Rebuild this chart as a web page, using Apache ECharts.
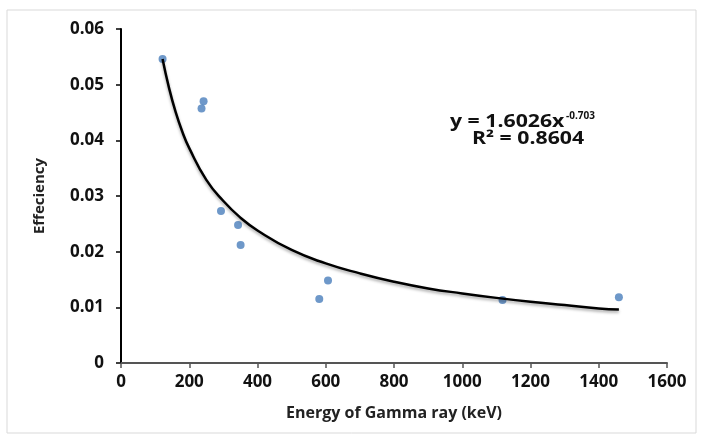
<!DOCTYPE html>
<html>
<head>
<meta charset="utf-8">
<script src="https://cdn.jsdelivr.net/npm/echarts@6/dist/echarts.min.js"></script>
<style>
  html, body { margin: 0; padding: 0; background: #fff; }
  #chart { width: 702px; height: 442px; }
</style>
</head>
<body>
<div id="chart"></div>
<script>
// measured points (energy keV, efficiency)
var energy = [121.8, 236, 242, 293, 343, 350.5, 581, 606.6, 1118, 1459];
var effic  = [0.0546, 0.0457, 0.0470, 0.0273, 0.0248, 0.0212, 0.0115, 0.0148, 0.0113, 0.0118];

// power trendline
var fitX = [121.8, 140, 160, 180, 200, 250, 300, 350, 400, 500, 600, 700, 800, 900, 1000, 1100, 1200, 1300, 1400, 1459];
var fitY = [0.0546, 0.0496, 0.0451, 0.0415, 0.0386, 0.0329, 0.0291, 0.0261, 0.0238, 0.0203, 0.0179, 0.0161, 0.0146, 0.0134, 0.0125, 0.0117, 0.0110, 0.0104, 0.0098, 0.0096];

var xTicks = [0, 200, 400, 600, 800, 1000, 1200, 1400, 1600];
var yTicks = [0, 0.01, 0.02, 0.03, 0.04, 0.05, 0.06];

var eqMain = 'y = 1.6026x';
var eqExp = '-0.703';
var eqR2 = 'R² = 0.8604';

var font = 'Open Sans, Liberation Sans, sans-serif';

var pts = energy.map(function (e, i) { return [e, effic[i]]; });
var fit = fitX.map(function (e, i) { return [e, fitY[i]]; });

var myChart = echarts.init(document.getElementById('chart'));
var option = {
    backgroundColor: '#fff',
    animation: false,
    grid: {
        left: 121,
        right: 35,
        top: 29,
        bottom: 79
    },
    xAxis: {
        type: 'value',
        min: xTicks[0],
        max: xTicks[xTicks.length - 1],
        interval: 200,
        name: 'Energy of Gamma ray (keV)',
        nameLocation: 'middle',
        nameGap: 42,
        nameTextStyle: { fontFamily: font, fontWeight: 'bold', fontSize: 16, color: '#222' },
        axisLine: { lineStyle: { color: '#555', width: 2 } },
        axisTick: { inside: false, length: 5, lineStyle: { color: '#555', width: 1.5 } },
        axisLabel: {
            fontFamily: font, fontWeight: 'bold', fontSize: 17, color: '#111', margin: 11,
            formatter: function (v) { return String(v); }
        },
        splitLine: { show: false }
    },
    yAxis: {
        type: 'value',
        min: yTicks[0],
        max: yTicks[yTicks.length - 1],
        interval: 0.01,
        name: 'Effeciency',
        nameLocation: 'middle',
        nameGap: 74,
        nameTextStyle: { fontFamily: font, fontWeight: 'bold', fontSize: 15, color: '#222' },
        axisLine: { show: true, lineStyle: { color: '#000', width: 2 } },
        axisTick: { show: true, inside: false, length: 5, lineStyle: { color: '#000', width: 1.5 } },
        axisLabel: {
            fontFamily: font, fontWeight: 'bold', fontSize: 17, color: '#111', margin: 17,
            formatter: function (v) { return v === 0 ? '0' : v.toFixed(2); }
        },
        splitLine: { show: false }
    },
    graphic: [
        {
            type: 'rect',
            shape: { x: 7, y: 10, width: 689, height: 423 },
            style: { fill: 'none', stroke: '#d9d9d9', lineWidth: 1 },
            silent: true,
            z: -1
        },
        {
            type: 'text',
            left: 450,
            top: 114,
            scaleX: 1.25,
            style: { text: eqMain, fontFamily: font, fontWeight: 'bold', fontSize: 17, fill: '#111' }
        },
        {
            type: 'text',
            left: 566,
            top: 111,
            style: { text: eqExp, fontFamily: font, fontWeight: 'bold', fontSize: 10, fill: '#111' }
        },
        {
            type: 'text',
            left: 472,
            top: 131,
            scaleX: 1.25,
            style: { text: eqR2, fontFamily: font, fontWeight: 'bold', fontSize: 17, fill: '#111' }
        }
    ],
    series: [
        {
            type: 'scatter',
            data: pts,
            symbol: 'circle',
            symbolSize: 8,
            itemStyle: { color: '#4a7ebb' },
            z: 2
        },
        {
            type: 'line',
            data: fit,
            smooth: true,
            showSymbol: false,
            lineStyle: {
                color: '#000', width: 2.5,
                shadowColor: 'rgba(0,0,0,0.35)', shadowBlur: 3, shadowOffsetY: 2
            },
            z: 3
        }
    ]
};
myChart.setOption(option);
</script>
</body>
</html>
